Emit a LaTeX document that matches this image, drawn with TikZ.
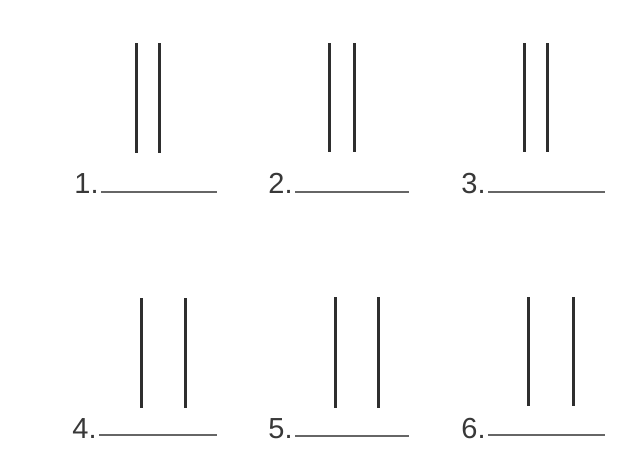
\documentclass[tikz,border=0pt]{standalone}
\usepackage{fontspec}
\setmainfont{Liberation Sans}
\begin{document}
\begin{tikzpicture}[x=0.5pt,y=-0.5pt,
  bar/.style={draw=black!82,line width=1.5pt},
  blank/.style={draw=black!60,line width=1.4pt},
  numlabel/.style={anchor=base east,inner sep=0pt,font=\fontsize{14.5}{16}\selectfont,text=black!78}]
\useasboundingbox[fill=white] (0,0) rectangle (624,468);
% item 1
\coordinate (a1t) at (136,43); \coordinate (a1b) at (136,153);
\coordinate (b1t) at (159,43); \coordinate (b1b) at (159,153);
\coordinate (u1s) at (101,192); \coordinate (u1e) at (217,192);
\node[numlabel] (n1) at (99,193) {1.};
% item 2
\coordinate (a2t) at (329,43); \coordinate (a2b) at (329,152);
\coordinate (b2t) at (354,43); \coordinate (b2b) at (354,152);
\coordinate (u2s) at (295,192); \coordinate (u2e) at (409,192);
\node[numlabel] (n2) at (293,193) {2.};
% item 3
\coordinate (a3t) at (524,43); \coordinate (a3b) at (524,152);
\coordinate (b3t) at (547,43); \coordinate (b3b) at (547,152);
\coordinate (u3s) at (488,192); \coordinate (u3e) at (605,192);
\node[numlabel] (n3) at (486,193) {3.};
% item 4
\coordinate (a4t) at (141,298); \coordinate (a4b) at (141,408);
\coordinate (b4t) at (185,298); \coordinate (b4b) at (185,408);
\coordinate (u4s) at (99,435); \coordinate (u4e) at (217,435);
\node[numlabel] (n4) at (97,438) {4.};
% item 5
\coordinate (a5t) at (335,297); \coordinate (a5b) at (335,408);
\coordinate (b5t) at (378,297); \coordinate (b5b) at (378,408);
\coordinate (u5s) at (295,436); \coordinate (u5e) at (409,436);
\node[numlabel] (n5) at (293,438) {5.};
% item 6
\coordinate (a6t) at (528,297); \coordinate (a6b) at (528,406);
\coordinate (b6t) at (573,297); \coordinate (b6b) at (573,406);
\coordinate (u6s) at (488,435); \coordinate (u6e) at (605,435);
\node[numlabel] (n6) at (486,438) {6.};
\foreach \i in {1,...,6}{
  \draw[bar] (a\i t) -- (a\i b);
  \draw[bar] (b\i t) -- (b\i b);
  \draw[blank] (u\i s) -- (u\i e);
}
\end{tikzpicture}
\end{document}
